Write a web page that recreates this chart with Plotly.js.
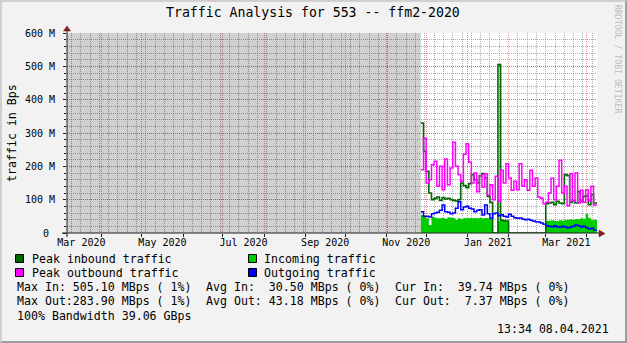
<!DOCTYPE html>
<html><head><meta charset="utf-8">
<script src="https://cdn.plot.ly/plotly-3.0.1.min.js"></script>
<style>
html,body{margin:0;padding:0;background:#f2f2f2;}
#wrap{position:relative;width:627px;height:343px;overflow:hidden;}
#chart{width:627px;height:343px;}
#frame{position:absolute;left:0;top:0;width:627px;height:343px;box-sizing:border-box;border-style:solid;border-width:2px;border-color:#cfcfcf #9e9e9e #9e9e9e #cfcfcf;pointer-events:none;}
</style></head><body>
<div id="wrap"><div id="chart"></div><div id="frame"></div></div>
<script>
// ---------------- data ----------------
const rangeStart = '2020-03-05 16:00';
const rangeEnd   = '2021-04-08 13:34';

const sampleDates = [
 '2020-11-27','2020-11-29',
 '2020-12-01','2020-12-03','2020-12-05','2020-12-07','2020-12-09','2020-12-11','2020-12-13','2020-12-15',
 '2020-12-17','2020-12-19','2020-12-21','2020-12-23','2020-12-25','2020-12-27','2020-12-29','2020-12-31',
 '2021-01-02','2021-01-04','2021-01-06','2021-01-08','2021-01-10','2021-01-12','2021-01-14','2021-01-16',
 '2021-01-18','2021-01-20','2021-01-22','2021-01-24','2021-01-26','2021-01-28','2021-01-30',
 '2021-02-01','2021-02-03','2021-02-05','2021-02-07','2021-02-09','2021-02-11','2021-02-13','2021-02-15',
 '2021-02-17','2021-02-19','2021-02-21','2021-02-23','2021-02-25','2021-02-27',
 '2021-03-01','2021-03-03','2021-03-05','2021-03-07','2021-03-09','2021-03-11','2021-03-13','2021-03-15',
 '2021-03-17','2021-03-19','2021-03-21','2021-03-23','2021-03-25','2021-03-27','2021-03-29','2021-03-31',
 '2021-04-02','2021-04-04','2021-04-06'
];

// MBps
const peakIn = [
 330,245,185,120,100,104,108,98,106,102,104,100,98,96,100,150,142,136,148,175,
 160,150,172,178,165,110,92,0,0,505,38,37,36,
 0,0,0,0,0,0,0,0,0,0,0,0,0,0,
 88,90,92,85,95,90,88,175,172,92,96,90,124,95,110,112,85,115,90
];
const incoming = [
 54,48,44,24,49,46,44,44,45,43,47,46,45,39,44,42,45,44,45,44,
 45,44,45,44,45,44,43,0,0,36,37,36,35,
 0,0,0,0,0,0,0,0,0,0,0,0,0,0,
 36,37,38,37,36,38,37,39,40,41,40,42,41,44,43,57,45,38,40,40
];
const peakOut = [
 190,284,150,160,205,215,140,200,130,222,145,195,272,200,175,155,236,268,212,150,
 180,124,172,138,178,114,145,100,170,95,188,150,208,
 165,128,155,130,208,140,160,128,188,140,165,108,104,88,
 92,120,164,100,140,218,120,140,82,178,96,180,90,128,92,130,96,140,84,84
];
const outgoing = [
 64,50,50,48,58,60,62,68,84,64,62,58,60,74,94,70,78,80,74,72,
 64,68,70,54,84,58,44,58,60,52,55,50,48,
 56,50,46,44,45,42,40,41,38,36,34,33,30,26,
 22,20,18,22,19,17,20,18,16,18,20,24,22,18,20,16,12,14,8,7
];

const yTickVals  = [0,100,200,300,400,500,600];
const yTickText  = ['0 ','100 M','200 M','300 M','400 M','500 M','600 M'];
const xLabelDates = ['2020-03-16 12:00','2020-05-16 12:00','2020-07-16 12:00','2020-09-16','2020-11-16','2021-01-16 12:00','2021-03-16 12:00'];
const xLabels     = ['Mar 2020','May 2020','Jul 2020','Sep 2020','Nov 2020','Jan 2021','Mar 2021'];

const seriesNames  = ['Peak inbound traffic','Incoming traffic','Peak outbound traffic','Outgoing traffic'];
const seriesColors = ['#006600','#00cc00','#ff00ff','#0000ff'];

const titleText = 'Traffic Analysis for 553 -- ffm2-2020';
const statLines = [
 ['Max In: 505.10 MBps ( 1%)','Avg In:  30.50 MBps ( 0%)','Cur In:  39.74 MBps ( 0%)'],
 ['Max Out:283.90 MBps ( 1%)','Avg Out: 43.18 MBps ( 0%)','Cur Out:  7.37 MBps ( 0%)']
];
const bandwidthText = '100% Bandwidth 39.06 GBps';
const stampText = '13:34 08.04.2021';

// ---------------- drawing ----------------
const FONT = 'DejaVu Sans Mono';
const L = 67, T = 33, W = 530, H = 200;
const px = x => (x - L) / W;
const py = y => (T + H - y) / H;
const nb = s => s.replace(/ /g, '\u00a0');

const xs = sampleDates.concat([rangeEnd]);
const ext = a => a.concat([a[a.length - 1]]);

const traces = [
 { // unknown / no-data region
   x: [rangeStart, sampleDates[0]], y: [600, 600], type: 'scatter', mode: 'lines',
   line: {width: 0, shape: 'hv'}, fill: 'tozeroy', fillcolor: 'rgba(0,0,0,0.185)', hoverinfo: 'skip'
 },
 {
   x: xs, y: ext(incoming), name: seriesNames[1], type: 'scatter', mode: 'lines',
   line: {width: 0, shape: 'hv', color: seriesColors[1]}, fill: 'tozeroy', fillcolor: seriesColors[1]
 },
 {
   x: xs, y: ext(peakIn), name: seriesNames[0], type: 'scatter', mode: 'lines',
   line: {width: 1.6, shape: 'hv', color: seriesColors[0]}
 },
 {
   x: xs, y: ext(peakOut), name: seriesNames[2], type: 'scatter', mode: 'lines',
   line: {width: 1.5, shape: 'hv', color: seriesColors[2]}
 },
 {
   x: xs, y: ext(outgoing), name: seriesNames[3], type: 'scatter', mode: 'lines',
   line: {width: 1.5, shape: 'hv', color: seriesColors[3]}
 },
 { // carrier for label axis
   x: xLabelDates, y: xLabelDates.map(() => null), xaxis: 'x2', yaxis: 'y',
   type: 'scatter', mode: 'markers', hoverinfo: 'skip'
 }
];

const MAJ = 'rgba(222,79,79,0.6)';
const MIN = 'rgba(143,143,143,0.75)';
const DASH = '1px,1px';

const shapes = [
 // axes
 {type:'line', xref:'paper', yref:'paper', x0:px(62), x1:px(600), y0:py(233), y1:py(233), line:{color:'#1f1f1f', width:1}, layer:'above'},
 {type:'line', xref:'paper', yref:'paper', x0:px(67), x1:px(67), y0:py(237), y1:py(29), line:{color:'#1f1f1f', width:1}, layer:'above'},
 // arrows
 {type:'path', xref:'paper', yref:'paper', layer:'above', fillcolor:'#801f1f', line:{color:'#801f1f', width:0.5},
  path:`M ${px(605)} ${py(233.5)} L ${px(599)} ${py(230)} L ${px(599)} ${py(237)} Z`},
 {type:'path', xref:'paper', yref:'paper', layer:'above', fillcolor:'#801f1f', line:{color:'#801f1f', width:0.5},
  path:`M ${px(67)} ${py(26)} L ${px(63.5)} ${py(31)} L ${px(70.5)} ${py(31)} Z`}
];

// legend boxes
const boxPos = [[15.5,254.5],[248.5,254.5],[15.5,268.5],[248.5,268.5]];
const legendOrder = [0,1,2,3];
legendOrder.forEach((s, k) => {
  const [bx, by] = boxPos[k];
  shapes.push({type:'rect', xref:'paper', yref:'paper', x0:px(bx), x1:px(bx+8), y0:py(by), y1:py(by+8),
    fillcolor: seriesColors[s], line:{color:'#000', width:1}, layer:'above'});
});

const ann = [];
const txt = (x, y, text, opts={}) => ann.push(Object.assign({
  xref:'paper', yref:'paper', x:px(x), y:py(y), text:nb(text), showarrow:false,
  xanchor:'left', yanchor:'middle', font:{family:FONT, size:11.6, color:'#000'}, borderpad:0
}, opts));

txt(312.5, 13, titleText, {xanchor:'center', font:{family:FONT, size:13.2, color:'#000'}});
txt(12, 133, 'traffic in Bps', {xanchor:'center', textangle:-90});
txt(618, 59, 'RRDTOOL / TOBI OETIKER', {xanchor:'center', textangle:90, font:{family:FONT, size:8.2, color:'#bdbdbd'}});

const legTextPos = [[30.5,258.5],[263,258.5],[30.5,272.5],[263,272.5]];
legendOrder.forEach((s, k) => txt(legTextPos[k][0], legTextPos[k][1], seriesNames[s]));

const colX = [15.7, 205, 394.3];
const rowY = [287, 301.3];
statLines.forEach((row, r) => row.forEach((t, c) => txt(colX[c], rowY[r], t)));
txt(15.7, 315.5, bandwidthText);
txt(610, 329, stampText, {xanchor:'right'});

const layout = {
  width: 627, height: 343,
  margin: {l: L, r: 627 - L - W, t: T, b: 343 - T - H, pad: 0},
  paper_bgcolor: '#f2f2f2', plot_bgcolor: '#ffffff',
  font: {family: FONT, size: 10, color: '#000'},
  showlegend: false,
  xaxis: {
    type: 'date', range: [rangeStart, rangeEnd], fixedrange: true,
    tickmode: 'linear', tick0: '2020-01-01', dtick: 'M1',
    showgrid: true, gridcolor: MAJ, griddash: DASH, gridwidth: 1,
    ticks: 'outside', ticklen: 3, tickcolor: '#1f1f1f', tickwidth: 1,
    showticklabels: false, zeroline: false, showline: false,
    minor: {tickmode: 'linear', tick0: '2020-03-02', dtick: 7 * 86400000,
            showgrid: true, gridcolor: MIN, griddash: DASH, gridwidth: 1, ticks: ''}
  },
  xaxis2: {
    type: 'date', range: [rangeStart, rangeEnd], overlaying: 'x', anchor: 'y', side: 'bottom',
    tickmode: 'array', tickvals: xLabelDates, ticktext: xLabels,
    showgrid: false, ticks: '', zeroline: false, showline: false, fixedrange: true,
    ticklabelstandoff: 2,
    tickfont: {family: FONT, size: 10, color: '#000'}
  },
  yaxis: {
    range: [0, 600], fixedrange: true,
    tickmode: 'array', tickvals: yTickVals, ticktext: yTickText.map(nb),
    showgrid: true, gridcolor: MAJ, griddash: DASH, gridwidth: 1,
    ticks: 'outside', ticklen: 3, tickcolor: '#1f1f1f', tickwidth: 1,
    zeroline: false, showline: false, ticklabelstandoff: 6,
    tickfont: {family: FONT, size: 10, color: '#000'},
    minor: {tickmode: 'linear', tick0: 0, dtick: 20, showgrid: true, gridcolor: MIN, griddash: DASH,
            gridwidth: 1, ticks: 'outside', ticklen: 2, tickcolor: '#1f1f1f'}
  },
  shapes: shapes,
  annotations: ann
};

Plotly.newPlot('chart', traces, layout, {displayModeBar: false, staticPlot: true});
</script></body></html>
